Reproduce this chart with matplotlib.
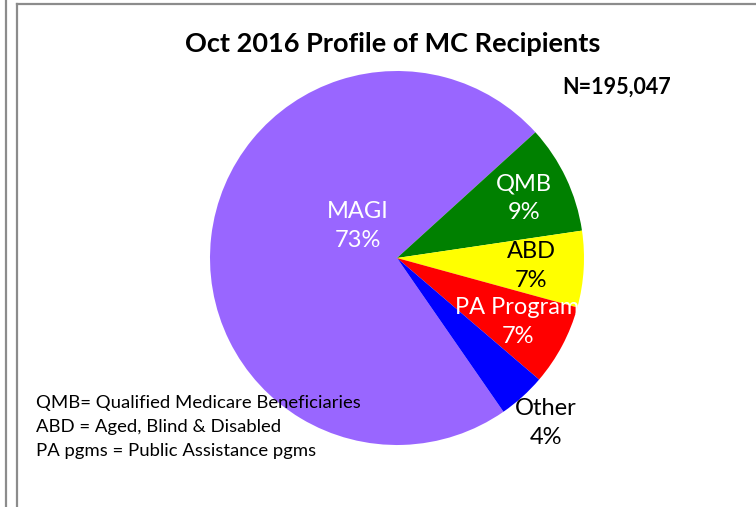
import numpy as np
import matplotlib
matplotlib.use("Agg")
import matplotlib.pyplot as plt
from matplotlib.lines import Line2D

categories = ["MAGI", "QMB", "ABD", "PA Program", "Other"]
values = [72.9, 9.4, 6.6, 7.0, 4.1]
colors = ["#9966FF", "#008000", "#FFFF00", "#FF0000", "#0000FF"]
label_colors = ["white", "white", "black", "white", "black"]
title = "Oct 2016 Profile of MC Recipients"
n_text = "N=195,047"
notes = ["QMB= Qualified Medicare Beneficiaries",
         "ABD = Aged, Blind & Disabled",
         "PA pgms = Public Assistance pgms"]

# label layout: (radius fraction, angle override in degrees or None)
label_layout = [(0.27, 141), (0.75, None), (0.72, None), (0.73, None), (1.19, None)]

W, H = 756, 507
fig = plt.figure(figsize=(W / 100, H / 100), dpi=100)
plt.rcParams['font.family'] = ['Lato', 'DejaVu Sans']

for xs, ys in [([5.5, 5.5], [0, H]), ([17, 17], [4, H]), ([17, W], [4, 4])]:
    fig.add_artist(Line2D([x / W for x in xs], [1 - y / H for y in ys],
                          color="#8c8c8c", lw=1.6, transform=fig.transFigure))

cx, cy, r = 397, 258, 187
ax = fig.add_axes([(cx - r) / W, 1 - (cy + r) / H, 2 * r / W, 2 * r / H])
wedges, _ = ax.pie(values, colors=colors, startangle=-55.3, counterclock=False,
                   radius=1.0, wedgeprops=dict(linewidth=0))
ax.set_xlim(-1, 1)
ax.set_ylim(-1, 1)
ax.set_aspect('auto')

total = sum(values)
for w, cat, v, col, (rf, ang) in zip(wedges, categories, values, label_colors, label_layout):
    a = ang if ang is not None else 0.5 * (w.theta1 + w.theta2)
    x = rf * np.cos(np.radians(a))
    y = rf * np.sin(np.radians(a))
    ax.text(x, y, f"{cat}\n{round(v / total * 100)}%", ha="center", va="center",
            color=col, fontsize=17, linespacing=1.45, clip_on=True)

fig.text(393 / W, 1 - 44 / H, title, ha="center", va="center",
         fontsize=19.5, fontweight="bold")
fig.text(617 / W, 1 - 87 / H, n_text, ha="center", va="center",
         fontsize=15.5, fontweight="bold")
for i, line in enumerate(notes):
    fig.text(36 / W, 1 - (403 + 24 * i) / H, line, ha="left", va="center",
             fontsize=13.3)

fig.savefig("out.png", dpi=100)
